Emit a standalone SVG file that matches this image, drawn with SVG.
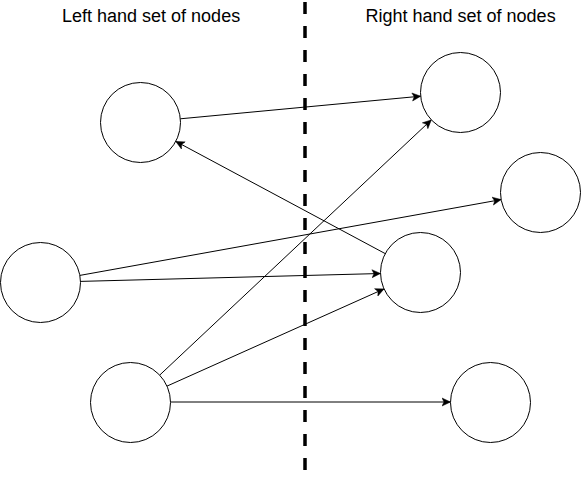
<svg xmlns="http://www.w3.org/2000/svg" width="582" height="487" viewBox="0 0 582 487">
  <defs>
    <marker id="arrow" markerWidth="10" markerHeight="10" viewBox="-9 -5 10 10" refX="0" refY="0" orient="auto" markerUnits="userSpaceOnUse">
      <path d="M0,0 L-8.5,-4 L-6.5,0 L-8.5,4 Z" fill="#000" stroke="#000" stroke-width="0.5"/>
    </marker>
    <style>
      .node { fill: #fff; stroke: #000; stroke-width: 1; }
      .edge { fill: none; stroke: #000; stroke-width: 1; marker-end: url(#arrow); }
      .title { font-family: "Liberation Sans", Arial, sans-serif; font-size: 18px; fill: #000; }
      .divider { stroke: #000; stroke-width: 3.5; stroke-dasharray: 12 12; fill: none; }
    </style>
  </defs>
  <rect width="582" height="487" fill="#fff"/>

  <g id="labels">
    <text class="title" x="62" y="22">Left hand set of nodes</text>
    <text class="title" x="365.5" y="22">Right hand set of nodes</text>
  </g>

  <g id="divider">
    <line class="divider" x1="305" y1="2" x2="305" y2="471"/>
  </g>

  <g id="connectors">
    <line class="edge" x1="180.3" y1="118.8" x2="420.7" y2="96.2"/>
    <line class="edge" x1="385.2" y1="253.6" x2="175.8" y2="141.4"/>
    <line class="edge" x1="159.7" y1="375.1" x2="431.3" y2="119.9"/>
    <line class="edge" x1="79.9" y1="275.4" x2="501.1" y2="199.6"/>
    <line class="edge" x1="80.5" y1="281.4" x2="380.5" y2="273.5"/>
    <line class="edge" x1="167" y1="386.1" x2="384" y2="288.9"/>
    <line class="edge" x1="170.5" y1="402" x2="450.5" y2="402"/>
  </g>

  <g id="nodeL1"><circle class="node" cx="140.5" cy="122.5" r="40"/></g>
  <g id="nodeL2"><circle class="node" cx="40.5" cy="282.5" r="40"/></g>
  <g id="nodeL3"><circle class="node" cx="130.5" cy="402.5" r="40"/></g>
  <g id="nodeR1"><circle class="node" cx="460.5" cy="92.5" r="40"/></g>
  <g id="nodeR2"><circle class="node" cx="540.5" cy="192.5" r="40"/></g>
  <g id="nodeR3"><circle class="node" cx="420.5" cy="272.5" r="40"/></g>
  <g id="nodeR4"><circle class="node" cx="490.5" cy="402.5" r="40"/></g>
</svg>
